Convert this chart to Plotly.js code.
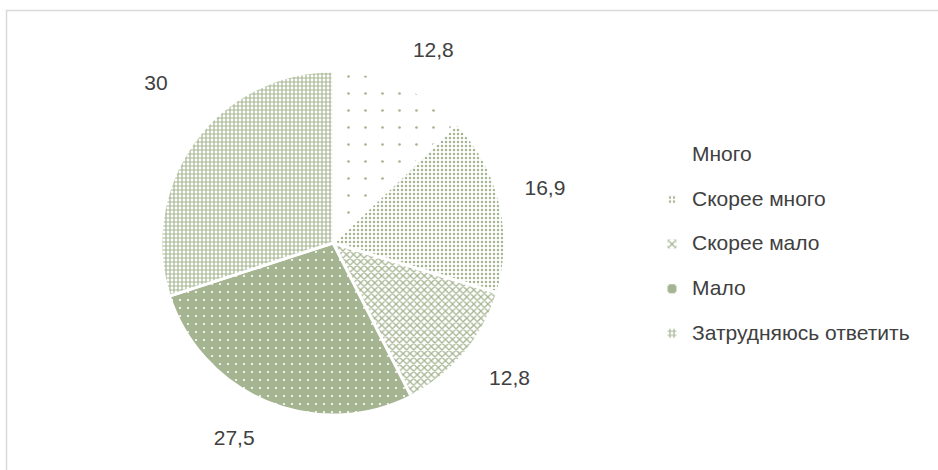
<!DOCTYPE html>
<html>
<head>
<meta charset="utf-8">
<script src="https://cdn.plot.ly/plotly-3.0.1.min.js"></script>
<style>html,body{margin:0;padding:0;background:#fff;}#chart{width:938px;height:470px;}</style>
</head>
<body>
<div id="chart"></div>
<script>
const categories = ["Много", "Скорее много", "Скорее мало", "Мало", "Затрудняюсь ответить"];
const values = [12.8, 16.9, 12.8, 27.5, 30];
const valueLabels = ["12,8", "16,9", "12,8", "27,5", "30"];

// label placement padding (blank lines above/below, non-breaking spaces on the pie side)
// used only to push Plotly's outside labels a bit further from the pie, as in the original
const NB = "\u00A0";
const labelPad = [
  {above: 0, below: 1, lead: 0},
  {above: 0, below: 1, lead: 2},
  {above: 1, below: 0, lead: 2},
  {above: 1, below: 0, lead: 0},
  {above: 0, below: 3, lead: 0}
];
const paddedText = valueLabels.map((t, i) => {
  const p = labelPad[i];
  let s = NB.repeat(p.lead) + t;
  for (let k = 0; k < p.above; k++) s = NB + "<br>" + s;
  for (let k = 0; k < p.below; k++) s = s + "<br>" + NB;
  return s;
});

const green = "#a5b591";
const trace = {
  type: "pie",
  labels: categories.map(c => '<span style="font-size:21px">' + c + '</span><br> '),
  values: values,
  text: paddedText,
  textinfo: "text",
  textposition: "outside",
  sort: false,
  direction: "clockwise",
  rotation: 0,
  domain: {x: [0.155, 0.555], y: [1 - 415/470, 1 - 71/470]},
  outsidetextfont: {family: "Liberation Sans, Arial, sans-serif", size: 21, color: "#404040"},
  marker: {
    colors: ["#ffffff", "#ffffff", "#ffffff", green, "#ffffff"],
    line: {color: "#ffffff", width: 3},
    pattern: {
      shape: [".", ".", "x", ".", "+"],
      size: [17, 4, 5, 8, 4],
      solidity: [0.02, 0.3, 0.45, 0.06, 0.5],
      fgcolor: [green, green, green, "#ffffff", green],
      bgcolor: ["#ffffff", "#ffffff", "#ffffff", green, "#ffffff"],
      fillmode: "replace"
    }
  },
  hoverinfo: "none"
};

const layout = {
  width: 938, height: 470,
  margin: {l: 0, r: 0, t: 0, b: 0},
  paper_bgcolor: "#ffffff",
  showlegend: true,
  legend: {
    x: 652/938, y: 1 - 138/470, xanchor: "left", yanchor: "top",
    valign: "top",
    font: {family: "Liberation Sans, Arial, sans-serif", size: 16, color: "#404040"},
    itemwidth: 30
  },
  shapes: [
    {type: "line", xref: "paper", yref: "paper", x0: 6.5/938, x1: 6.5/938, y0: 0, y1: 1 - 10/470, line: {color: "#d9d9d9", width: 1.5}},
    {type: "line", xref: "paper", yref: "paper", x0: 6.5/938, x1: 1, y0: 1 - 10.5/470, y1: 1 - 10.5/470, line: {color: "#d9d9d9", width: 1.5}}
  ]
};

Plotly.newPlot("chart", [trace], layout, {staticPlot: true, displayModeBar: false});
</script>
</body>
</html>
